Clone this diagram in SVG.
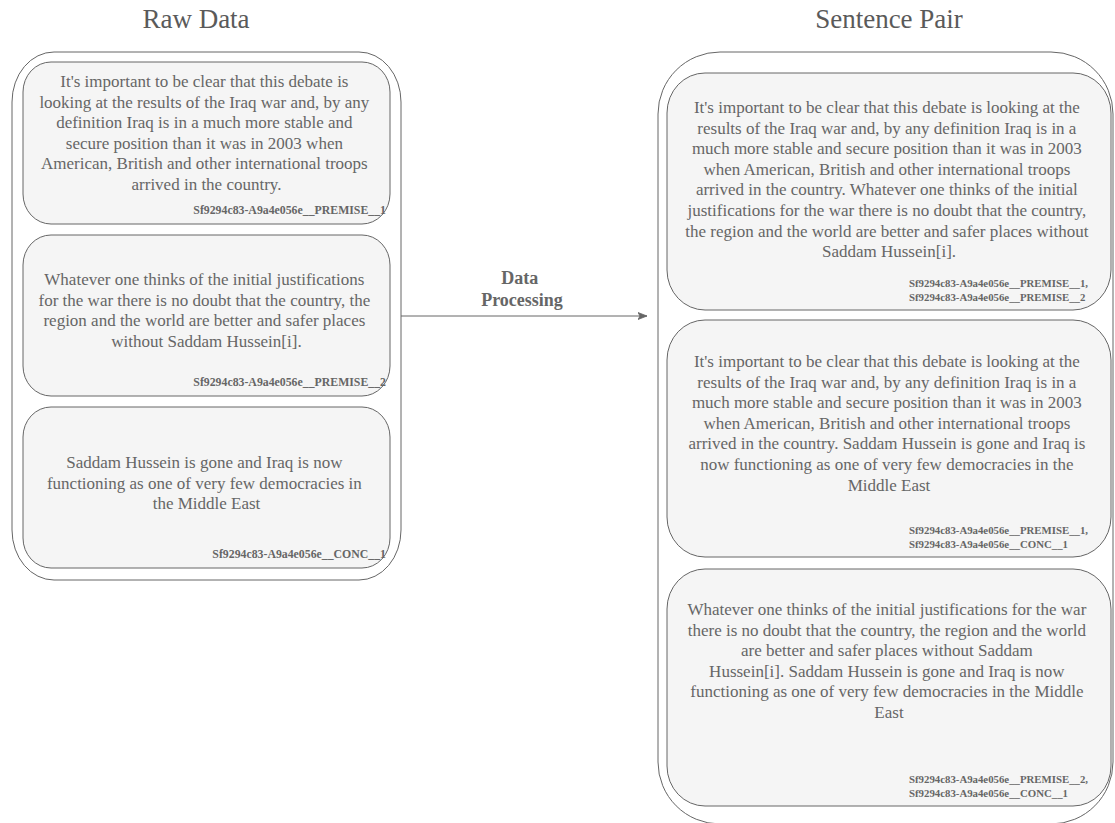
<svg xmlns="http://www.w3.org/2000/svg" width="1115" height="823" viewBox="0 0 1115 823">
<style>
.bg{fill:#ffffff}
.cont{fill:none;stroke:#666666;stroke-width:1}
.box{fill:#f5f5f5;stroke:#666666;stroke-width:1}
.title{font-family:"Liberation Serif","Times New Roman",serif;font-size:27px;fill:#5a5a5a;text-anchor:middle}
.body{font-family:"Liberation Serif","Times New Roman",serif;font-size:17px;fill:#666666;text-anchor:middle}
.lblL{font-family:"Liberation Serif","Times New Roman",serif;font-size:11.8px;font-weight:bold;fill:#666666;text-anchor:end}
.lblR{font-family:"Liberation Serif","Times New Roman",serif;font-size:10.8px;font-weight:bold;fill:#666666;text-anchor:start}
.edge{fill:none;stroke:#666666;stroke-width:1}
.elbl{font-family:"Liberation Serif","Times New Roman",serif;font-size:18px;font-weight:bold;fill:#666666;text-anchor:middle}
</style>
<defs>
<marker id="arr" markerWidth="10" markerHeight="10" refX="9" refY="5" orient="auto" markerUnits="userSpaceOnUse">
<path d="M0,1.5 L9,5 L0,8.5 L2,5 Z" fill="#666666" stroke="#666666" stroke-width="0.8"/>
</marker>
</defs>
<rect class="bg" x="0" y="0" width="1115" height="823"/>

<g id="raw-data">
<text class="title" x="196" y="28">Raw Data</text>
<rect class="cont" x="12" y="52" width="389" height="528" rx="42" ry="50"/>
</g>

<g id="premise1">
<rect class="box" x="23" y="62" width="367" height="162" rx="28" ry="30"/>
<text class="body">
<tspan x="206.5" y="87">It's important to be clear that this debate is</tspan>
<tspan x="206.5" y="107.5">looking at the results of the Iraq war and, by any</tspan>
<tspan x="206.5" y="128">definition Iraq is in a much more stable and</tspan>
<tspan x="206.5" y="148.5">secure position than it was in 2003 when</tspan>
<tspan x="206.5" y="169">American, British and other international troops</tspan>
<tspan x="206.5" y="189.5">arrived in the country.</tspan>
</text>
<text class="lblL" x="386" y="214">Sf9294c83-A9a4e056e__PREMISE__1</text>
</g>

<g id="premise2">
<rect class="box" x="23" y="235" width="367" height="161" rx="28" ry="30"/>
<text class="body">
<tspan x="206.5" y="285">Whatever one thinks of the initial justifications</tspan>
<tspan x="206.5" y="305.5">for the war there is no doubt that the country, the</tspan>
<tspan x="206.5" y="326">region and the world are better and safer places</tspan>
<tspan x="206.5" y="346.5">without Saddam Hussein[i].</tspan>
</text>
<text class="lblL" x="386" y="386">Sf9294c83-A9a4e056e__PREMISE__2</text>
</g>

<g id="conc1">
<rect class="box" x="23" y="407" width="367" height="161" rx="28" ry="30"/>
<text class="body">
<tspan x="206.5" y="468">Saddam Hussein is gone and Iraq is now</tspan>
<tspan x="206.5" y="488.5">functioning as one of very few democracies in</tspan>
<tspan x="206.5" y="509">the Middle East</tspan>
</text>
<text class="lblL" x="386" y="558">Sf9294c83-A9a4e056e__CONC__1</text>
</g>

<g id="sentence-pair">
<text class="title" x="889" y="28">Sentence Pair</text>
<rect class="cont" x="658" y="52" width="455" height="772" rx="62" ry="62"/>
</g>

<g id="pair1">
<rect class="box" x="667" y="73" width="444" height="237" rx="38" ry="40"/>
<text class="body">
<tspan x="889" y="113">It's important to be clear that this debate is looking at the</tspan>
<tspan x="889" y="133.6">results of the Iraq war and, by any definition Iraq is in a</tspan>
<tspan x="889" y="154.2">much more stable and secure position than it was in 2003</tspan>
<tspan x="889" y="174.8">when American, British and other international troops</tspan>
<tspan x="889" y="195.4">arrived in the country. Whatever one thinks of the initial</tspan>
<tspan x="889" y="216">justifications for the war there is no doubt that the country,</tspan>
<tspan x="889" y="236.6">the region and the world are better and safer places without</tspan>
<tspan x="889" y="257.2">Saddam Hussein[i].</tspan>
</text>
<text class="lblR">
<tspan x="909" y="287">Sf9294c83-A9a4e056e__PREMISE__1,</tspan>
<tspan x="909" y="301">Sf9294c83-A9a4e056e__PREMISE__2</tspan>
</text>
</g>

<g id="pair2">
<rect class="box" x="667" y="320" width="444" height="237" rx="38" ry="40"/>
<text class="body">
<tspan x="889" y="367">It's important to be clear that this debate is looking at the</tspan>
<tspan x="889" y="387.6">results of the Iraq war and, by any definition Iraq is in a</tspan>
<tspan x="889" y="408.2">much more stable and secure position than it was in 2003</tspan>
<tspan x="889" y="428.8">when American, British and other international troops</tspan>
<tspan x="889" y="449.4">arrived in the country. Saddam Hussein is gone and Iraq is</tspan>
<tspan x="889" y="470">now functioning as one of very few democracies in the</tspan>
<tspan x="889" y="490.6">Middle East</tspan>
</text>
<text class="lblR">
<tspan x="909" y="534">Sf9294c83-A9a4e056e__PREMISE__1,</tspan>
<tspan x="909" y="548">Sf9294c83-A9a4e056e__CONC__1</tspan>
</text>
</g>

<g id="pair3">
<rect class="box" x="667" y="569" width="444" height="237" rx="38" ry="40"/>
<text class="body">
<tspan x="889" y="615">Whatever one thinks of the initial justifications for the war</tspan>
<tspan x="889" y="635.6">there is no doubt that the country, the region and the world</tspan>
<tspan x="889" y="656.2">are better and safer places without Saddam</tspan>
<tspan x="889" y="676.8">Hussein[i]. Saddam Hussein is gone and Iraq is now</tspan>
<tspan x="889" y="697.4">functioning as one of very few democracies in the Middle</tspan>
<tspan x="889" y="718">East</tspan>
</text>
<text class="lblR">
<tspan x="909" y="783">Sf9294c83-A9a4e056e__PREMISE__2,</tspan>
<tspan x="909" y="797">Sf9294c83-A9a4e056e__CONC__1</tspan>
</text>
</g>

<g id="connectors">
<path class="edge" d="M401,316 L647,316" marker-end="url(#arr)"/>
<text class="elbl">
<tspan x="522" y="284">Data</tspan>
<tspan x="522" y="306">Processing</tspan>
</text>
</g>
</svg>
